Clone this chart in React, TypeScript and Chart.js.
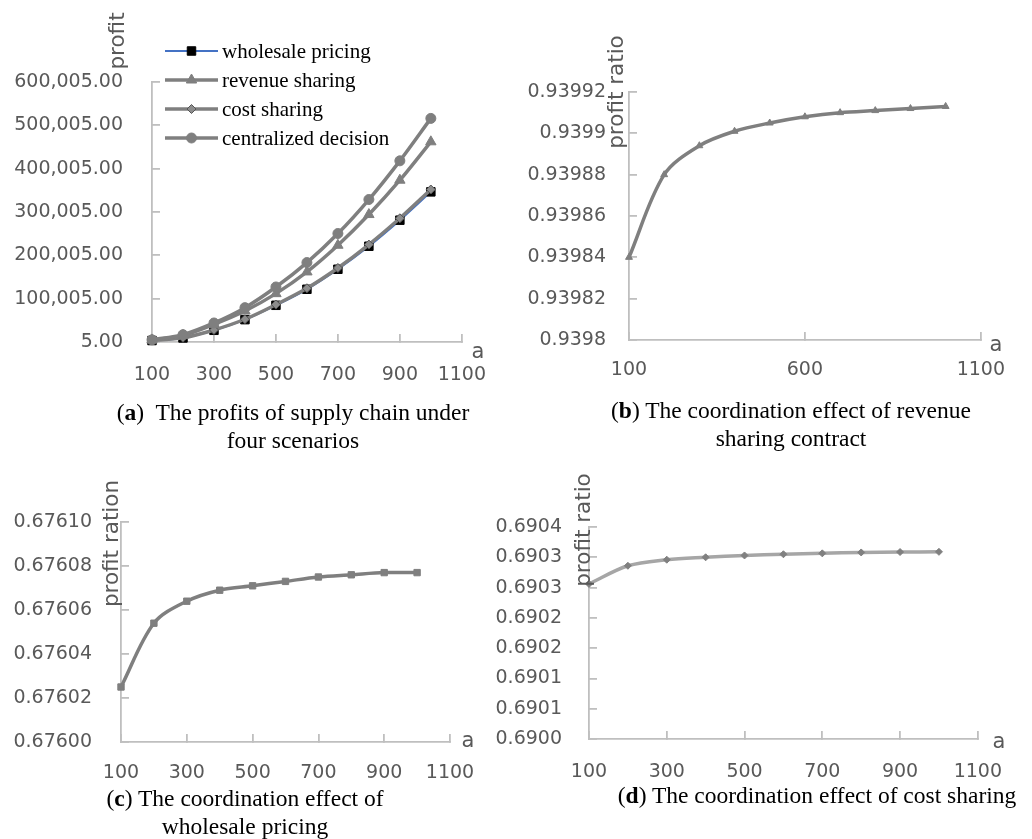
import React, { useEffect, useRef } from "react";
import { Chart, registerables } from "chart.js";

Chart.register(...registerables);

// ---------------- data ----------------
const aValues = [100, 200, 300, 400, 500, 600, 700, 800, 900, 1000];

const profitWholesale = [3400, 9300, 27000, 51600, 84700, 121700, 167900, 221000, 281100, 346500];
const profitRevenue = [4800, 15400, 40800, 71600, 111600, 161700, 223300, 294100, 373400, 462000];
const profitCost = [3500, 9800, 27800, 52500, 86300, 124000, 170800, 224800, 285500, 351900];
const profitCentral = [5100, 16900, 43900, 79300, 127000, 183300, 250300, 328800, 418100, 516000];

const ratioRevenue = [0.93984, 0.93988, 0.939894, 0.939901, 0.939905, 0.939908, 0.93991, 0.939911, 0.939912, 0.939913];
const ratioWholesale = [0.676025, 0.676054, 0.676064, 0.676069, 0.676071, 0.676073, 0.676075, 0.676076, 0.676077, 0.676077];
const ratioCost = [0.690256, 0.690286, 0.690296, 0.6903, 0.690303, 0.690305, 0.6903065, 0.690308, 0.6903087, 0.690309];

const xTickLabels200 = ["100", "300", "500", "700", "900", "1100"];
const xTickLabels500 = ["100", "600", "1100"];
const yTickLabelsA = ["5.00", "100,005.00", "200,005.00", "300,005.00", "400,005.00", "500,005.00", "600,005.00"];
const yTickLabelsB = ["0.9398", "0.93982", "0.93984", "0.93986", "0.93988", "0.9399", "0.93992"];
const yTickLabelsC = ["0.67600", "0.67602", "0.67604", "0.67606", "0.67608", "0.67610"];
const yTickLabelsD = ["0.6900", "0.6901", "0.6901", "0.6902", "0.6902", "0.6903", "0.6903", "0.6904"];

const legendOrder = ["wholesale pricing", "revenue sharing", "cost sharing", "centralized decision"];

// ---------------- styles ----------------
const TICK = "#595959";
const AXIS = "#bfbfbf";
const GRAY = "#7f7f7f";
const FONT = "DejaVu Sans";

function pts(vals: number[]) {
  return aValues.map((x, i) => ({ x, y: vals[i] }));
}

function drawMarker(ctx: CanvasRenderingContext2D, style: string, x: number, y: number, r: number, fill: string, stroke: string, bw: number) {
  ctx.beginPath();
  if (style === "circle") {
    ctx.arc(x, y, r, 0, Math.PI * 2);
  } else if (style === "rect") {
    const s = r * Math.SQRT1_2;
    ctx.rect(x - s, y - s, 2 * s, 2 * s);
  } else if (style === "rectRot") {
    ctx.moveTo(x, y - r);
    ctx.lineTo(x + r, y);
    ctx.lineTo(x, y + r);
    ctx.lineTo(x - r, y);
    ctx.closePath();
  } else if (style === "triangle") {
    ctx.moveTo(x, y - r);
    ctx.lineTo(x + r * 0.866, y + r * 0.5);
    ctx.lineTo(x - r * 0.866, y + r * 0.5);
    ctx.closePath();
  }
  ctx.fillStyle = fill;
  ctx.fill();
  if (bw > 0) {
    ctx.lineWidth = bw;
    ctx.strokeStyle = stroke;
    ctx.stroke();
  }
}

interface Notes {
  yTitle: string;
  tx: number;
  ty: number;
  tsize: number;
  ax: number;
  ay: number;
  legend?: { x1: number; x2: number; tx: number; ys: number[] };
}

function notesPlugin(n: Notes) {
  return {
    id: "notes",
    afterDraw(chart: any) {
      const ctx: CanvasRenderingContext2D = chart.ctx;
      const ca = chart.chartArea;
      ctx.save();
      ctx.fillStyle = TICK;
      ctx.font = `${n.tsize}px "${FONT}"`;
      ctx.textAlign = "center";
      ctx.textBaseline = "middle";
      ctx.translate(ca.left + n.tx, ca.top + n.ty);
      ctx.rotate(-Math.PI / 2);
      ctx.fillText(n.yTitle, 0, 0);
      ctx.restore();

      ctx.save();
      ctx.fillStyle = TICK;
      ctx.font = `21px "${FONT}"`;
      ctx.textAlign = "center";
      ctx.textBaseline = "middle";
      ctx.fillText("a", ca.right + n.ax, ca.bottom + n.ay);
      ctx.restore();

      if (n.legend) {
        const lg = n.legend;
        legendOrder.forEach((label, i) => {
          const ds = chart.data.datasets.find((d: any) => d.label === label);
          if (!ds) return;
          const y = lg.ys[i];
          ctx.save();
          ctx.strokeStyle = ds.borderColor;
          ctx.lineWidth = ds.borderWidth;
          ctx.beginPath();
          ctx.moveTo(lg.x1, y);
          ctx.lineTo(lg.x2, y);
          ctx.stroke();
          drawMarker(ctx, ds.pointStyle, (lg.x1 + lg.x2) / 2, y, ds.pointRadius, ds.pointBackgroundColor, ds.pointBorderColor, ds.pointBorderWidth);
          ctx.fillStyle = "#000";
          ctx.font = `21px "Liberation Serif"`;
          ctx.textAlign = "left";
          ctx.textBaseline = "middle";
          ctx.fillText(label, lg.tx, y + 1);
          ctx.restore();
        });
      }
    },
  };
}

interface Spec {
  left: number; top: number; w: number; h: number; // canvas in page coords
  area: { l: number; t: number; r: number; b: number }; // chart area, page coords
  xMin: number; xMax: number; xStep: number; xLabels: string[]; xPad: number;
  yMin: number; yMax: number; yStep: number; yLabels: string[]; yPad: number;
  datasets: any[];
  notes: Notes;
}

function makeConfig(s: Spec): any {
  const yWidth = s.area.l - s.left;
  const xHeight = s.top + s.h - s.area.b;
  const padTop = s.area.t - s.top;
  const padRight = s.left + s.w - s.area.r;
  const tickFont = { family: FONT, size: 19 };
  return {
    type: "line",
    data: { datasets: s.datasets },
    options: {
      animation: false,
      responsive: false,
      maintainAspectRatio: false,
      layout: { padding: { left: 0, top: padTop, right: padRight, bottom: 0 } },
      plugins: { legend: { display: false }, tooltip: { enabled: false } },
      scales: {
        x: {
          type: "linear",
          position: "bottom",
          min: s.xMin,
          max: s.xMax,
          ticks: {
            stepSize: s.xStep,
            padding: s.xPad,
            color: TICK,
            font: tickFont,
            maxRotation: 0,
            autoSkip: false,
            callback: (_v: any, i: number) => s.xLabels[i],
          },
          grid: { drawOnChartArea: false, drawTicks: true, tickLength: -8, color: AXIS, lineWidth: 1.8 },
          border: { display: true, color: AXIS, width: 1.8 },
          afterFit: (sc: any) => { sc.height = xHeight; },
        },
        y: {
          type: "linear",
          position: "left",
          min: s.yMin,
          max: s.yMax,
          ticks: {
            stepSize: s.yStep,
            padding: s.yPad,
            color: TICK,
            font: tickFont,
            autoSkip: false,
            callback: (_v: any, i: number) => s.yLabels[i],
          },
          grid: { drawOnChartArea: false, drawTicks: true, tickLength: -8, color: AXIS, lineWidth: 1.8 },
          border: { display: true, color: AXIS, width: 1.8 },
          afterFit: (sc: any) => { sc.width = yWidth; },
        },
      },
    },
    plugins: [notesPlugin(s.notes)],
  };
}

const TENSION = 0.33;

const specA: Spec = {
  left: 0, top: 0, w: 516, h: 400,
  area: { l: 152, t: 82, r: 477, b: 342 },
  xMin: 100, xMax: 1100, xStep: 200, xLabels: xTickLabels200, xPad: 30,
  yMin: 5, yMax: 600005, yStep: 100000, yLabels: yTickLabelsA, yPad: 37,
  datasets: [
    { label: "centralized decision", data: pts(profitCentral), borderColor: GRAY, borderWidth: 3.5, pointStyle: "circle", pointRadius: 5, pointBackgroundColor: GRAY, pointBorderColor: GRAY, pointBorderWidth: 1, tension: TENSION, fill: false, clip: false },
    { label: "revenue sharing", data: pts(profitRevenue), borderColor: GRAY, borderWidth: 3.5, pointStyle: "triangle", pointRadius: 6, pointBackgroundColor: GRAY, pointBorderColor: GRAY, pointBorderWidth: 1, tension: TENSION, fill: false, clip: false },
    { label: "cost sharing", data: pts(profitCost), borderColor: GRAY, borderWidth: 3.5, pointStyle: "rectRot", pointRadius: 4.5, pointBackgroundColor: "#8c8c8c", pointBorderColor: "#555555", pointBorderWidth: 1, tension: TENSION, fill: false, clip: false },
    { label: "wholesale pricing", data: pts(profitWholesale), borderColor: "#4472c4", borderWidth: 2, pointStyle: "rect", pointRadius: 6, pointBackgroundColor: "#000000", pointBorderColor: "#000000", pointBorderWidth: 1, tension: TENSION, fill: false, clip: false },
  ],
  notes: { yTitle: "profit", tx: -34, ty: -41, tsize: 21.5, ax: 16, ay: 11, legend: { x1: 165, x2: 218, tx: 222, ys: [51, 80, 109, 138] } },
};

const specB: Spec = {
  left: 516, top: 0, w: 516, h: 400,
  area: { l: 629, t: 92, r: 989, b: 340 },
  xMin: 100, xMax: 1100, xStep: 500, xLabels: xTickLabels500, xPad: 27,
  yMin: 0.9398, yMax: 0.93992, yStep: 0.00002, yLabels: yTickLabelsB, yPad: 31,
  datasets: [
    { label: "revenue sharing ratio", data: pts(ratioRevenue), borderColor: GRAY, borderWidth: 3.5, pointStyle: "triangle", pointRadius: 4, pointBackgroundColor: GRAY, pointBorderColor: GRAY, pointBorderWidth: 1, tension: TENSION, fill: false, clip: false },
  ],
  notes: { yTitle: "profit ratio", tx: -11.5, ty: 0, tsize: 21.5, ax: 15, ay: 6 },
};

const specC: Spec = {
  left: 0, top: 460, w: 516, h: 340,
  area: { l: 121, t: 522, r: 450, b: 742 },
  xMin: 100, xMax: 1100, xStep: 200, xLabels: xTickLabels200, xPad: 28,
  yMin: 0.676, yMax: 0.6761, yStep: 0.00002, yLabels: yTickLabelsC, yPad: 37,
  datasets: [
    { label: "wholesale ratio", data: pts(ratioWholesale), borderColor: GRAY, borderWidth: 3.5, pointStyle: "rect", pointRadius: 4.5, pointBackgroundColor: GRAY, pointBorderColor: GRAY, pointBorderWidth: 1, tension: TENSION, fill: false, clip: false },
  ],
  notes: { yTitle: "profit ration", tx: -9, ty: 21.5, tsize: 21.5, ax: 18, ay: 0 },
};

const specD: Spec = {
  left: 480, top: 460, w: 552, h: 340,
  area: { l: 589, t: 527, r: 989, b: 739 },
  xMin: 100, xMax: 1100, xStep: 200, xLabels: xTickLabels200, xPad: 30,
  yMin: 0.69, yMax: 0.69035, yStep: 0.00005, yLabels: yTickLabelsD, yPad: 35,
  datasets: [
    { label: "cost sharing ratio", data: pts(ratioCost), borderColor: "#a6a6a6", borderWidth: 3.5, pointStyle: "rectRot", pointRadius: 3.5, pointBackgroundColor: "#808080", pointBorderColor: "#808080", pointBorderWidth: 1, tension: TENSION, fill: false, clip: false },
  ],
  notes: { yTitle: "profit ratio", tx: -5, ty: 3, tsize: 21.5, ax: 21, ay: 4 },
};

function ChartBox({ spec }: { spec: Spec }) {
  const ref = useRef<HTMLCanvasElement>(null);
  useEffect(() => {
    const chart = new Chart(ref.current as HTMLCanvasElement, makeConfig(spec));
    return () => chart.destroy();
  }, [spec]);
  return (
    <canvas
      ref={ref}
      width={spec.w}
      height={spec.h}
      style={{ position: "absolute", left: spec.left, top: spec.top, width: spec.w, height: spec.h }}
    />
  );
}

function Caption({ cx, top, lines }: { cx: number; top: number; lines: React.ReactNode[] }) {
  return (
    <div
      style={{
        position: "absolute",
        left: cx - 260,
        top,
        width: 520,
        textAlign: "center",
        fontFamily: '"Liberation Serif", "Times New Roman", serif',
        fontSize: 23.5,
        lineHeight: "28px",
        color: "#000",
        whiteSpace: "pre",
      }}
    >
      {lines.map((l, i) => (
        <div key={i}>{l}</div>
      ))}
    </div>
  );
}

export default function App() {
  return (
    <div style={{ position: "absolute", left: 0, top: 0, width: 1032, height: 839, background: "#fff", overflow: "hidden" }}>
      <ChartBox spec={specA} />
      <ChartBox spec={specB} />
      <ChartBox spec={specC} />
      <ChartBox spec={specD} />
      <Caption cx={293} top={398} lines={[<span>(<b>a</b>)  The profits of supply chain under</span>, "four scenarios"]} />
      <Caption cx={791} top={396} lines={[<span>(<b>b</b>) The coordination effect of revenue</span>, "sharing contract"]} />
      <Caption cx={245} top={784} lines={[<span>(<b>c</b>) The coordination effect of</span>, "wholesale pricing"]} />
      <Caption cx={817} top={781} lines={[<span>(<b>d</b>) The coordination effect of cost sharing</span>]} />
    </div>
  );
}
